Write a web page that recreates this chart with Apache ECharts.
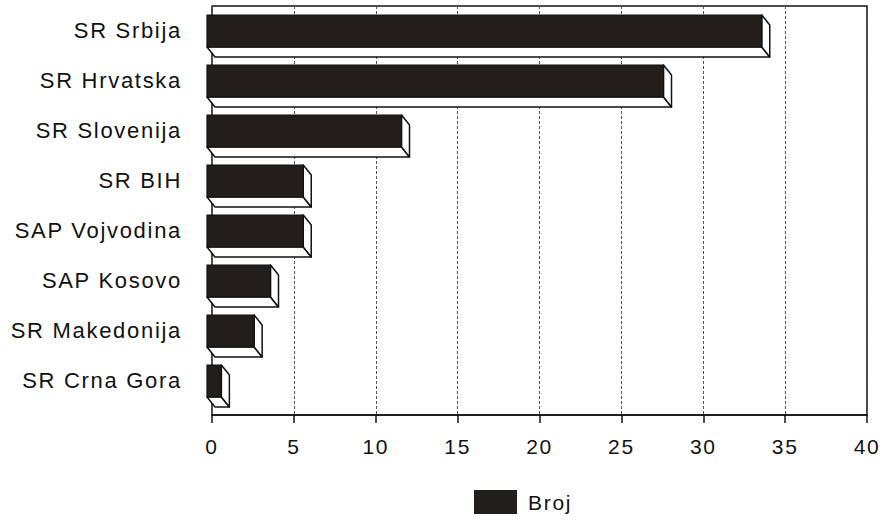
<!DOCTYPE html>
<html><head><meta charset="utf-8">
<script src="https://cdn.jsdelivr.net/npm/echarts@6/dist/echarts.min.js"></script>
<style>
html,body{margin:0;padding:0;background:#fff}
#c{width:883px;height:521px}
#c svg text{letter-spacing:1.7px}
</style>
</head><body><div id="c"></div>
<script>
const categories = ['SR Srbija','SR Hrvatska','SR Slovenija','SR BIH','SAP Vojvodina','SAP Kosovo','SR Makedonija','SR Crna Gora'];
const values = [34, 28, 12, 6, 6, 4, 3, 1];
const seriesName = 'Broj';
const xMin = 0, xMax = 40, xInterval = 5;

const FONT = 'Liberation Sans';
const INK = '#111';
const BAR = '#211e1b';
const DX = 8, DY = 10;

const chart = echarts.init(document.getElementById('c'), null, {renderer: 'svg'});

function renderItem(params, api) {
  const idx = api.value(0);
  const v = api.value(1);
  const p0 = api.coord([0, idx]);
  const p1 = api.coord([v, idx]);
  const band = api.size([0, 1])[1];
  const h = band * 0.64;
  const yc = p0[1] + 1;
  const yt = yc - h / 2, yb = yc + h / 2;
  const xl = p0[0] - 5, xr = p1[0] - 7;
  const side = {fill: '#fff', stroke: INK, lineWidth: 1.5, lineJoin: 'round'};
  return {
    type: 'group',
    children: [
      {type: 'polygon', shape: {points: [[xl, yb], [xr, yb], [xr + DX, yb + DY], [xl + DX, yb + DY]]}, style: side},
      {type: 'polygon', shape: {points: [[xr, yt], [xr + DX, yt + DY], [xr + DX, yb + DY], [xr, yb]]}, style: side},
      {type: 'rect', shape: {x: xl, y: yt, width: xr - xl, height: yb - yt}, style: {fill: BAR, stroke: INK, lineWidth: 1.2}}
    ]
  };
}

chart.setOption({
  animation: false,
  backgroundColor: '#fff',
  textStyle: {fontFamily: FONT, color: INK},
  grid: [
    {left: 212, right: 16, top: 5, height: 400},
    {left: 212, right: 16, top: 6, height: 409, show: true, borderColor: INK, borderWidth: 1.5, backgroundColor: 'transparent', z: 0}
  ],
  xAxis: [
    {gridIndex: 0, type: 'value', min: xMin, max: xMax, interval: xInterval, show: false},
    {gridIndex: 1, type: 'value', min: xMin, max: xMax, interval: xInterval,
      axisLine: {show: true, lineStyle: {color: INK, width: 1.5}},
      axisTick: {show: true, length: 8, lineStyle: {color: INK, width: 1.5}},
      axisLabel: {fontSize: 21, color: INK, margin: 21, fontFamily: FONT},
      splitLine: {show: true, lineStyle: {color: '#555', width: 1, type: [3, 2]}}}
  ],
  yAxis: [
    {gridIndex: 0, type: 'category', data: categories, inverse: true, offset: 11,
      axisLine: {show: false},
      axisTick: {show: true, alignWithLabel: true, length: 5, lineStyle: {color: INK, width: 1.2}},
      axisLabel: {fontSize: 22, color: INK, margin: 19, fontFamily: FONT},
      splitLine: {show: false}},
    {gridIndex: 1, type: 'value', show: false, min: 0, max: 1}
  ],
  legend: {
    data: [{name: seriesName, icon: 'rect'}],
    left: 474, top: 490, itemWidth: 43, itemHeight: 24, itemGap: 10, padding: 0,
    textStyle: {fontSize: 21, color: INK, fontFamily: FONT, padding: [0, 0, 0, 6]}
  },
  series: [{
    name: seriesName,
    type: 'custom',
    xAxisIndex: 0, yAxisIndex: 0,
    renderItem: renderItem,
    itemStyle: {color: BAR},
    encode: {y: 0, x: 1},
    data: values.map((v, i) => [i, v]),
    z: 5
  }]
});
</script>
</body></html>
